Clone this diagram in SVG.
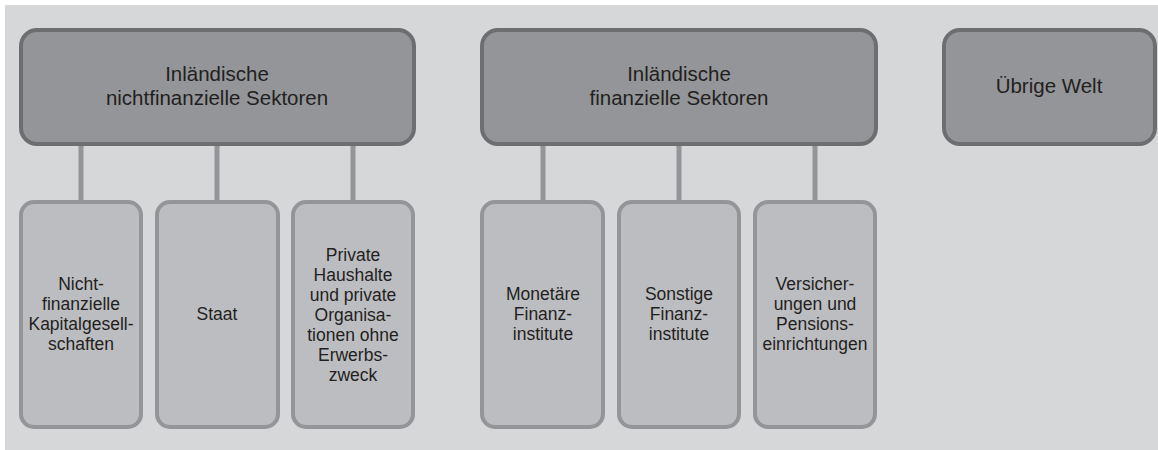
<svg xmlns="http://www.w3.org/2000/svg" width="1158" height="450" viewBox="0 0 1158 450">
<style>
.top{fill:#939598;stroke:#6d6e70;stroke-width:4}
.sub{fill:#bcbdc0;stroke:#939598;stroke-width:4}
.con{stroke:#939598;stroke-width:5;fill:none}
text{font-family:"Liberation Sans",Arial,sans-serif;fill:#231f20;text-anchor:middle}
.t1{font-size:20.5px}
.t2{font-size:17.5px}
</style>
<rect x="0" y="0" width="1158" height="450" fill="#ffffff"/>
<rect x="5" y="5" width="1153" height="445" fill="#d6d7d9"/>
<g id="connectors">
<line class="con" x1="81" y1="145" x2="81" y2="200"/>
<line class="con" x1="217" y1="145" x2="217" y2="200"/>
<line class="con" x1="353" y1="145" x2="353" y2="200"/>
<line class="con" x1="543" y1="145" x2="543" y2="200"/>
<line class="con" x1="679" y1="145" x2="679" y2="200"/>
<line class="con" x1="815" y1="145" x2="815" y2="200"/>
</g>
<g id="n-nichtfin">
<rect class="top" x="21" y="30" width="393" height="114" rx="16"/>
<text class="t1" x="217" y="81">Inländische</text>
<text class="t1" x="217" y="105">nichtfinanzielle Sektoren</text>
</g>
<g id="n-fin">
<rect class="top" x="482" y="30" width="394" height="114" rx="16"/>
<text class="t1" x="679" y="81">Inländische</text>
<text class="t1" x="679" y="105">finanzielle Sektoren</text>
</g>
<g id="n-welt">
<rect class="top" x="944" y="30" width="211" height="114" rx="16"/>
<text class="t1" x="1049" y="93">Übrige Welt</text>
</g>
<g id="n-kapges">
<rect class="sub" x="21" y="202" width="120" height="225" rx="13"/>
<text class="t2" x="81" y="290">Nicht-</text>
<text class="t2" x="81" y="310">finanzielle</text>
<text class="t2" x="81" y="330">Kapitalgesell-</text>
<text class="t2" x="81" y="350">schaften</text>
</g>
<g id="n-staat">
<rect class="sub" x="157" y="202" width="121" height="225" rx="13"/>
<text class="t2" x="217" y="320">Staat</text>
</g>
<g id="n-haushalte">
<rect class="sub" x="293" y="202" width="120" height="225" rx="13"/>
<text class="t2" x="353" y="261">Private</text>
<text class="t2" x="353" y="281">Haushalte</text>
<text class="t2" x="353" y="301">und private</text>
<text class="t2" x="353" y="321">Organisa-</text>
<text class="t2" x="353" y="341">tionen ohne</text>
<text class="t2" x="353" y="361">Erwerbs-</text>
<text class="t2" x="353" y="381">zweck</text>
</g>
<g id="n-monetaer">
<rect class="sub" x="482" y="202" width="121" height="225" rx="13"/>
<text class="t2" x="543" y="300">Monetäre</text>
<text class="t2" x="543" y="320">Finanz-</text>
<text class="t2" x="543" y="340">institute</text>
</g>
<g id="n-sonstige">
<rect class="sub" x="619" y="202" width="120" height="225" rx="13"/>
<text class="t2" x="679" y="300">Sonstige</text>
<text class="t2" x="679" y="320">Finanz-</text>
<text class="t2" x="679" y="340">institute</text>
</g>
<g id="n-versicherung">
<rect class="sub" x="755" y="202" width="120" height="225" rx="13"/>
<text class="t2" x="815" y="290">Versicher-</text>
<text class="t2" x="815" y="310">ungen und</text>
<text class="t2" x="815" y="330">Pensions-</text>
<text class="t2" x="815" y="350">einrichtungen</text>
</g>
</svg>
